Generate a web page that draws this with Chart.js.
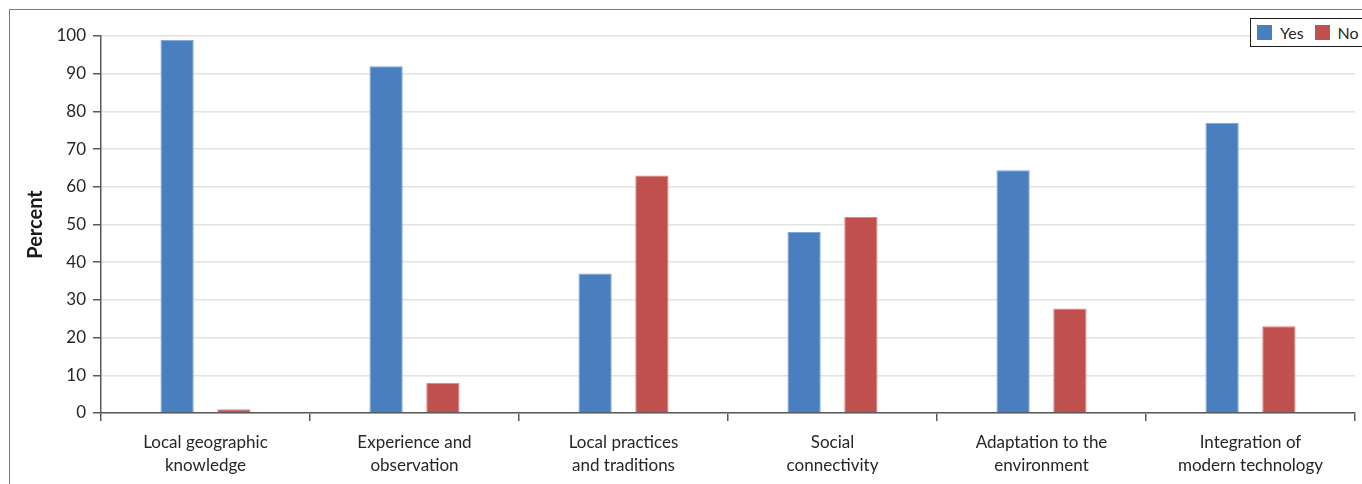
<!DOCTYPE html>
<html>
<head>
<meta charset="utf-8">
<script src="https://cdn.jsdelivr.net/npm/chart.js@4.4.1/dist/chart.umd.min.js"></script>
<style>
  html, body { margin: 0; padding: 0; background: #ffffff; }
  body { width: 1362px; height: 484px; position: relative; overflow: hidden; }
  #frame { position: absolute; left: 9px; top: 9px; width: 1400px; height: 520px;
           border-left: 1.5px solid #7a7a7a; border-top: 1.5px solid #7a7a7a; }
  #wrap { position: absolute; left: 0; top: 0; width: 1362px; height: 484px; }
  #legend { position: absolute; left: 1250px; top: 18px; height: 27px; width: 130px;
            border: 1px solid #1a1a1a; background: #fff; font-family: Lato, "Open Sans", sans-serif;
            font-size: 16px; color: #262626; display: flex; align-items: center; }
  .item { display: flex; align-items: center; margin-left: 6px; margin-right: 5px; }
  .sw { width: 15px; height: 15px; margin-right: 8px; }
</style>
</head>
<body>
<div id="frame"></div>
<div id="wrap"><canvas id="c" width="1362" height="484"></canvas></div>
<div id="legend"></div>
<script>
// Knowledge sources and survey responses (percent)
const categories = [
  ["Local geographic", "knowledge"],
  ["Experience and", "observation"],
  ["Local practices", "and traditions"],
  ["Social", "connectivity"],
  ["Adaptation to the", "environment"],
  ["Integration of", "modern technology"]
];
const yesValues = [99, 92, 37, 48, 64.4, 77];
const noValues  = [1, 8, 63, 52, 27.7, 23];
const seriesNames = ["Yes", "No"];
const seriesColors = ["#4a7fbf", "#c0504d"];
const seriesEdges  = ["#7fa7d8", "#d98583"];
const yTicks = [0, 10, 20, 30, 40, 50, 60, 70, 80, 90, 100];

const FONT = 'Lato, "Open Sans", sans-serif';
const TEXT = '#262626';
const AXIS = '#595959';

const chart = new Chart(document.getElementById('c'), {
  type: 'bar',
  data: {
    labels: categories,
    datasets: [yesValues, noValues].map((vals, i) => ({
      label: seriesNames[i],
      data: vals,
      backgroundColor: seriesColors[i],
      borderColor: seriesEdges[i],
      borderWidth: { left: 1, right: 1, top: 1, bottom: 0 },
      categoryPercentage: 0.5435,
      barPercentage: 0.586
    }))
  },
  options: {
    responsive: false,
    animation: false,
    layout: { padding: { left: 0, top: 36, right: 7, bottom: 0 } },
    plugins: { legend: { display: false }, tooltip: { enabled: false } },
    scales: {
      x: {
        offset: true,
        grid: { offset: true, drawOnChartArea: false, drawTicks: true, tickLength: 8,
                tickColor: AXIS, lineWidth: 1.5 },
        border: { color: AXIS, width: 1.5 },
        ticks: { color: TEXT, font: { family: FONT, size: 17, lineHeight: 1.35 }, padding: 10,
                 maxRotation: 0, autoSkip: false },
        afterFit: s => { s.height = 71; }
      },
      y: {
        min: 0, max: 100,
        afterBuildTicks: s => { s.ticks = yTicks.map(v => ({ value: v })); },
        grid: { color: '#e2e2e2', lineWidth: 1.5, tickColor: AXIS, tickLength: 8 },
        border: { color: AXIS, width: 1.5 },
        ticks: { color: TEXT, font: { family: FONT, size: 17 }, padding: 7 },
        title: { display: true, text: 'Percent', color: '#1a1a1a',
                 font: { family: FONT, size: 20, weight: 'bold' }, padding: { top: 24, bottom: 0 } },
        afterFit: s => { s.width = 101; }
      }
    }
  }
});

// Legend built from the dataset names and colours
const legend = document.getElementById('legend');
chart.data.datasets.forEach(ds => {
  const item = document.createElement('div');
  item.className = 'item';
  const sw = document.createElement('div');
  sw.className = 'sw';
  sw.style.background = ds.backgroundColor;
  const t = document.createElement('span');
  t.textContent = ds.label;
  item.appendChild(sw);
  item.appendChild(t);
  legend.appendChild(item);
});
</script>
</body>
</html>
